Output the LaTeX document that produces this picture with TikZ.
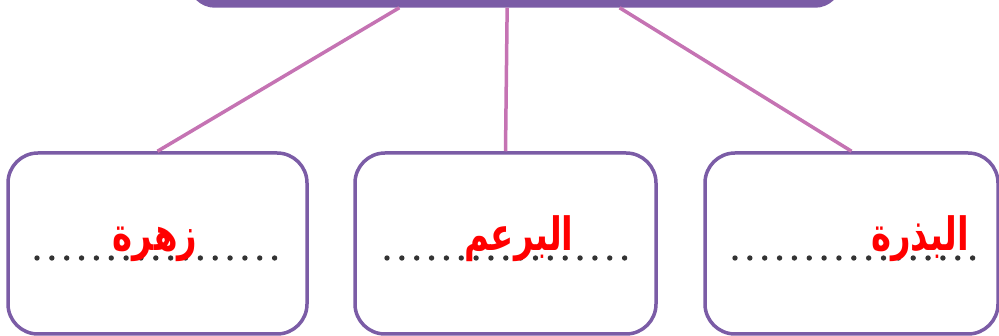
\documentclass[tikz,border=0pt]{standalone}
\usepackage{fontspec}
\newfontfamily\arabicfont[Script=Arabic]{DejaVu Sans}
\TeXXeTstate=1
\usetikzlibrary{calc}
\definecolor{boxpurple}{HTML}{7B5CA6}
\definecolor{linkpink}{HTML}{C573B3}
\definecolor{dotgray}{HTML}{333333}
\definecolor{ansred}{HTML}{FF0000}
\tikzset{
  topbox/.style={draw=boxpurple,fill=boxpurple,line width=3.5pt,rounded corners=25pt,minimum width=650pt,minimum height=60pt,inner sep=0pt},
  leafbox/.style={draw=boxpurple,line width=3.5pt,rounded corners=30pt,minimum height=181pt,inner sep=0pt},
  link/.style={draw=linkpink,line width=3.5pt},
  ans/.style={text=ansred,font=\arabicfont\bfseries\fontsize{34}{40}\selectfont,anchor=base,inner sep=0pt},
  blankdot/.style={fill=dotgray,draw=none}
}
\begin{document}
\begin{tikzpicture}[x=1pt,y=-1pt]
\useasboundingbox (0,0) rectangle (999,336);
\begin{scope}
\clip (0,0) rectangle (999,336);
\node[topbox] (top) at (515,-24) {};
\node[leafbox,minimum width=299pt] (b1) at (157.5,243.5) {};
\node[leafbox,minimum width=301pt] (b2) at (505.5,243.5) {};
\node[leafbox,minimum width=293pt] (b3) at (851.5,243.5) {};
\draw[link] ($(top.south west)!0.323!(top.south east)$) -- (b1.north);
\draw[link] ($(top.south west)!0.488!(top.south east)$) -- (b2.north);
\draw[link] ($(top.south west)!0.66!(top.south east)$) -- (b3.north);
\foreach \sx in {37,387,735}{
  \foreach \i in {0,...,16}{
    \fill[blankdot] (\sx+\i*14.85,258) circle (2.7pt);
  }
}
\node[ans] (t1) at (155,251) {\scalebox{1}[1.35]{\beginR زهرة\endR}};
\node[ans] (t2) at (519,251) {\scalebox{1}[1.35]{\beginR البرعم\endR}};
\node[ans] (t3) at (920,251) {\scalebox{1}[1.35]{\beginR البذرة\endR}};
\end{scope}
\end{tikzpicture}
\end{document}
